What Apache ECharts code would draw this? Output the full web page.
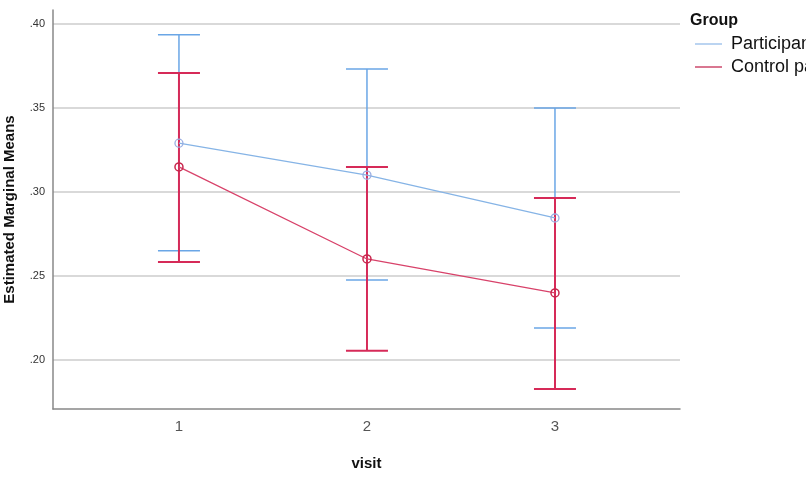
<!DOCTYPE html>
<html>
<head>
<meta charset="utf-8">
<script src="https://cdn.jsdelivr.net/npm/echarts@6/dist/echarts.min.js"></script>
<style>
  html, body { margin: 0; padding: 0; background: #fff; }
  #chart { width: 806px; height: 480px; }
</style>
</head>
<body>
<div id="chart"></div>
<script>
// estimated marginal means per visit, with 95% CI
const visits = [1, 2, 3]
const groupNames = ['Participants', 'Control participants']
const partMean = [0.329, 0.310, 0.2845]
const partLow = [0.265, 0.2476, 0.219]
const partHigh = [0.3935, 0.3732, 0.350]
const ctrlMean = [0.3149, 0.2601, 0.2399]
const ctrlLow = [0.2583, 0.2054, 0.1827]
const ctrlHigh = [0.3708, 0.3149, 0.2964]
const yTicks = [0.20, 0.25, 0.30, 0.35, 0.40]

const blue = '#86b4e6'
const blueBar = '#6aa6e6'
const red = '#d8426a'
const redBar = '#d62a58'

function errorBarSeries(low, high, color, width) {
  return {
    type: 'custom',
    silent: true,
    z: 3,
    data: visits.map((v, i) => [v, low[i], high[i]]),
    renderItem: function (params, api) {
      const lo = api.coord([api.value(0), api.value(1)])
      const hi = api.coord([api.value(0), api.value(2)])
      const half = 21
      const style = { stroke: color, lineWidth: width }
      return {
        type: 'group',
        children: [
          { type: 'line', shape: { x1: lo[0], y1: lo[1], x2: hi[0], y2: hi[1] }, style: style },
          { type: 'line', shape: { x1: lo[0] - half, y1: lo[1], x2: lo[0] + half, y2: lo[1] }, style: style },
          { type: 'line', shape: { x1: hi[0] - half, y1: hi[1], x2: hi[0] + half, y2: hi[1] }, style: style }
        ]
      }
    }
  }
}

const chart = echarts.init(document.getElementById('chart'))
const option = {
  animation: false,
  textStyle: { fontFamily: 'Liberation Sans, Arial, sans-serif' },
  title: {
    text: 'Group',
    left: 685,
    top: 8,
    textStyle: { fontSize: 16, fontWeight: 'bold', color: '#111' }
  },
  legend: {
    orient: 'vertical',
    left: 690,
    top: 30,
    itemWidth: 27,
    itemHeight: 1.5,
    itemGap: 5,
    icon: 'rect',
    itemStyle: { borderWidth: 0 },
    data: [
      { name: groupNames[0], itemStyle: { color: '#a4c6ec' } },
      { name: groupNames[1], itemStyle: { color: '#cc4a6c' } }
    ],
    textStyle: { fontSize: 18, color: '#111', padding: [0, 0, 0, 4] }
  },
  grid: { left: 53, right: 126, top: 10, bottom: 71, outerBoundsMode: 'none' },
  xAxis: {
    type: 'value',
    min: 0.33,
    max: 3.665,
    name: 'visit',
    nameLocation: 'middle',
    nameGap: 47,
    nameTextStyle: { fontSize: 15, fontWeight: 'bold', color: '#111' },
    axisLine: { lineStyle: { color: '#888', width: 1.5 } },
    axisTick: { show: false },
    splitLine: { show: false },
    axisLabel: {
      customValues: visits,
      fontSize: 15,
      color: '#555',
      margin: 10
    }
  },
  yAxis: {
    type: 'value',
    min: 0.1708,
    max: 0.4083,
    splitNumber: 5,
    name: 'Estimated Marginal Means',
    nameLocation: 'middle',
    nameGap: 36,
    nameTextStyle: { fontSize: 15, fontWeight: 'bold', color: '#111' },
    axisLine: { show: true, lineStyle: { color: '#888', width: 1.5 } },
    axisTick: { show: false },
    splitLine: { show: true, showMinLine: false, showMaxLine: false, lineStyle: { color: '#ccc', width: 1.5 } },
    axisLabel: {
      customValues: yTicks,
      fontSize: 11,
      color: '#333',
      margin: 8,
      formatter: v => v.toFixed(2).replace(/^0/, '')
    }
  },
  series: [
    errorBarSeries(partLow, partHigh, blueBar, 1.5),
    errorBarSeries(ctrlLow, ctrlHigh, redBar, 2),
    {
      name: groupNames[0],
      type: 'line',
      z: 4,
      data: visits.map((v, i) => [v, partMean[i]]),
      color: blue,
      symbol: 'circle',
      symbolSize: 8,
      lineStyle: { width: 1.3, color: blue },
      itemStyle: { color: 'rgba(255,255,255,0)', borderColor: '#9aaee2', borderWidth: 1.3 }
    },
    {
      name: groupNames[1],
      type: 'line',
      z: 5,
      data: visits.map((v, i) => [v, ctrlMean[i]]),
      color: red,
      symbol: 'circle',
      symbolSize: 8,
      lineStyle: { width: 1.3, color: red },
      itemStyle: { color: 'rgba(255,255,255,0)', borderColor: '#c8284e', borderWidth: 1.5 }
    }
  ]
}
chart.setOption(option)
</script>
</body>
</html>
